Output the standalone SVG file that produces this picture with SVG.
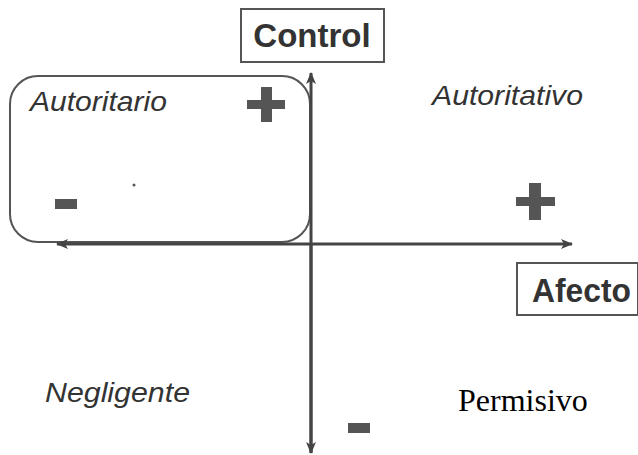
<svg xmlns="http://www.w3.org/2000/svg" width="638" height="455" viewBox="0 0 638 455">
<defs>
<style>
.box{fill:#fff;stroke:#555;stroke-width:2}
.lbl{font-family:"Liberation Sans",Arial,sans-serif;font-weight:bold;font-size:33px;fill:#333}
.q{font-family:"Liberation Sans",Arial,sans-serif;font-style:italic;font-size:28px;fill:#333}
.ser{font-family:"Liberation Serif","Times New Roman",serif;font-size:32px;fill:#000}
.axis{stroke:#444;stroke-width:3;fill:none}
.sign{fill:#555}
</style>
<marker id="ah" viewBox="0 0 12 10" refX="11" refY="5" markerWidth="12" markerHeight="10" markerUnits="userSpaceOnUse" orient="auto">
<path d="M0,0 L12,5 L0,10 L3,5 Z" fill="#444"/>
</marker>
</defs>
<rect width="638" height="455" fill="#fff"/>
<g id="quadrant-autoritario">
<rect x="10" y="76" width="300" height="166" rx="28" ry="28" fill="none" stroke="#555" stroke-width="2"/>
<text class="q" x="30" y="111" textLength="137" lengthAdjust="spacingAndGlyphs">Autoritario</text>
<circle cx="134" cy="185" r="1.5" fill="#555"/>
</g>
<g id="connectors">
<line class="axis" x1="311" y1="453" x2="311" y2="73" marker-end="url(#ah)"/>
<line class="axis" x1="311" y1="244" x2="311" y2="453" marker-end="url(#ah)"/>
<line class="axis" x1="311" y1="244" x2="572" y2="244" marker-end="url(#ah)"/>
<line class="axis" x1="311" y1="244" x2="57" y2="244" marker-end="url(#ah)"/>
</g>
<g id="control">
<rect class="box" x="241" y="9" width="143" height="53"/>
<text class="lbl" x="312" y="47" text-anchor="middle">Control</text>
</g>
<g id="afecto">
<rect class="box" x="517" y="263" width="121" height="52"/>
<text class="lbl" x="532" y="302" textLength="99" lengthAdjust="spacingAndGlyphs">Afecto</text>
</g>
<g id="signs">
<rect class="sign" x="247" y="100" width="38" height="9"/>
<rect class="sign" x="261" y="87" width="11" height="35"/>
<rect class="sign" x="516" y="197" width="39" height="9"/>
<rect class="sign" x="529" y="183" width="12" height="37"/>
<rect class="sign" x="55" y="199" width="22" height="10"/>
<rect class="sign" x="348" y="423" width="22" height="10"/>
</g>
<g id="quadrant-autoritativo">
<text class="q" x="432" y="105" textLength="151" lengthAdjust="spacingAndGlyphs">Autoritativo</text>
</g>
<g id="quadrant-negligente">
<text class="q" x="45" y="402" textLength="145" lengthAdjust="spacingAndGlyphs">Negligente</text>
</g>
<g id="quadrant-permisivo">
<text class="ser" x="458" y="411">Permisivo</text>
</g>
</svg>
